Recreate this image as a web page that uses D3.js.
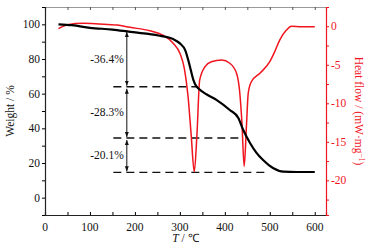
<!DOCTYPE html>
<html><head><meta charset="utf-8">
<script src="https://cdn.jsdelivr.net/npm/d3@7"></script>
<style>body{margin:0;background:#fff}svg{display:block}text{font-family:"Liberation Serif","Times New Roman",serif}</style>
</head><body>
<svg id="c" width="369" height="248"></svg>
<script>
const weightT = [30, 60, 100, 150, 190, 230, 260, 285, 300, 312, 322, 330, 336, 342, 360, 382, 411, 430, 441, 456, 470, 485, 507, 530, 560, 600];
const weightW = [100, 99.5, 98, 97, 95.7, 94.5, 93.2, 91.5, 89, 85, 76, 68, 64.5, 62.8, 59.5, 56.3, 50.6, 46, 39, 31.5, 26, 21.7, 17.1, 15, 14.8, 14.8];
const heatT = [30, 50, 85, 120, 160, 189, 233, 262, 285, 300, 310, 318, 325, 332, 338, 344, 356, 370, 393, 411, 426, 433, 438, 443, 448, 452, 459, 478, 500, 511, 522, 537, 548, 570, 600];
const heatH = [-0.3, 0.2, 0.38, 0.3, 0.16, -0.14, -0.58, -1.14, -2.2, -3.5, -5.5, -9, -14, -18.9, -14, -7.0, -5.25, -4.6, -4.38, -4.8, -6.1, -8.5, -12.5, -18.2, -13, -8.7, -7.2, -6.1, -4.6, -3.3, -1.8, -0.5, 0, -0.05, -0.05];
const stepLevels = [64.0, 34.4, 14.6];
const stepEnds = [340, 430, 493];
const stepLabels = ["-36.4%", "-28.3%", "-20.1%"];
const arrowTop = 95.6;
const xTicks = [0, 100, 200, 300, 400, 500, 600];
const yTicks = [0, 20, 40, 60, 80, 100];
const hTicks = [0, -5, -10, -15, -20];

const svg = d3.select("#c");
const L = 45, R = 326, T = 7, B = 215;
const x = d3.scaleLinear().domain([0, 625]).range([L, R]);
const y = d3.scaleLinear().domain([-10, 110]).range([B, T]);
const yr = d3.scaleLinear().domain([-24.5, 2.5]).range([B, T]);
const red = "#f0141e";

// top border with inward ticks
svg.append("g").attr("transform", `translate(0,${T})`)
  .call(d3.axisTop(x).tickValues(d3.range(0, 601, 50)).tickSize(-3).tickFormat(""))
  .call(g => g.select(".domain").attr("stroke", "#999").attr("stroke-width", 1.2))
  .call(g => g.selectAll(".tick line").attr("stroke", "#555"));

// bottom axis
const gx = svg.append("g").attr("transform", `translate(0,${B})`);
gx.call(d3.axisBottom(x).tickValues(d3.range(0, 601, 50)).tickSize(-3).tickFormat(""))
  .call(g => g.select(".domain").attr("stroke", "#222").attr("stroke-width", 1.2));
gx.selectAll(".lbl").data(xTicks).join("text").attr("class", "lbl")
  .attr("x", d => x(d)).attr("y", 16).attr("text-anchor", "middle")
  .attr("font-size", 11.5).attr("fill", "#111").text(d => d);

// left axis
const gy = svg.append("g").attr("transform", `translate(${L},0)`);
gy.call(d3.axisLeft(y).tickValues(d3.range(-10, 111, 10)).tickSize(3).tickFormat(""))
  .call(g => g.select(".domain").attr("stroke", "#222").attr("stroke-width", 1.2));
gy.selectAll(".lbl").data(yTicks).join("text").attr("class", "lbl")
  .attr("x", -5).attr("y", d => y(d)).attr("dy", "0.35em").attr("text-anchor", "end")
  .attr("font-size", 11.5).attr("fill", "#111").text(d => d);

// right axis
const gr = svg.append("g").attr("transform", `translate(${R},0)`);
gr.call(d3.axisRight(yr).tickValues(d3.range(-22.5, 2.6, 2.5)).tickSize(3).tickFormat(""))
  .call(g => g.select(".domain").attr("stroke", red).attr("stroke-width", 1.2))
  .call(g => g.selectAll(".tick line").attr("stroke", red));
gr.selectAll(".lbl").data(hTicks).join("text").attr("class", "lbl")
  .attr("x", 5).attr("y", d => yr(d)).attr("dy", "0.35em").attr("text-anchor", "start")
  .attr("font-size", 11.5).attr("fill", red).text(d => d);

// axis titles
svg.append("text").attr("transform", `translate(14,${(T + B) / 2}) rotate(-90)`)
  .attr("text-anchor", "middle").attr("font-size", 11.5).attr("fill", "#111").text("Weight / %");
const xt = svg.append("text").attr("x", (L + R) / 2).attr("y", 242).attr("text-anchor", "middle")
  .attr("font-size", 11.5).attr("fill", "#111");
xt.append("tspan").attr("font-style", "italic").text("T");
xt.append("tspan").text(" / ℃");
const ht = svg.append("text").attr("transform", `translate(355,${(T + B) / 2}) rotate(90)`)
  .attr("text-anchor", "middle").attr("font-size", 11.5).attr("fill", red);
ht.append("tspan").text("Heat flow / (mW·mg");
ht.append("tspan").attr("font-size", 7.5).attr("dy", -4).text("−1");
ht.append("tspan").attr("dy", 4).text(")");

// dashed step lines
stepLevels.forEach((lv, i) => {
  svg.append("line").attr("x1", x(152)).attr("x2", x(stepEnds[i]))
    .attr("y1", y(lv)).attr("y2", y(lv)).attr("stroke", "#111")
    .attr("stroke-width", 1.4).attr("stroke-dasharray", "8,5");
});

// arrows
const defs = svg.append("defs");
defs.append("marker").attr("id", "ah").attr("viewBox", "0 0 10 10").attr("refX", 10).attr("refY", 5)
  .attr("markerWidth", 5).attr("markerHeight", 5).attr("orient", "auto-start-reverse")
  .append("path").attr("d", "M0,1L10,5L0,9Z").attr("fill", "#111");
const ax = x(182);
const tops = [arrowTop].concat(stepLevels.slice(0, 2));
tops.forEach((tp, i) => {
  svg.append("line").attr("x1", ax).attr("x2", ax)
    .attr("y1", y(tp) + (i ? 2 : 0)).attr("y2", y(stepLevels[i]) - 1)
    .attr("stroke", "#111").attr("stroke-width", 1)
    .attr("marker-start", "url(#ah)").attr("marker-end", "url(#ah)");
  svg.append("text").attr("x", ax - 3).attr("y", (y(tp) + y(stepLevels[i])) / 2).attr("dy", "0.35em")
    .attr("text-anchor", "end").attr("font-size", 11.5).attr("fill", "#111").text(stepLabels[i]);
});

// curves
const wData = weightT.map((t, i) => [t, weightW[i]]);
const hData = heatT.map((t, i) => [t, heatH[i]]);
svg.append("path").datum(hData).attr("fill", "none").attr("stroke", red).attr("stroke-width", 1.5)
  .attr("d", d3.line().x(d => x(d[0])).y(d => yr(d[1])).curve(d3.curveMonotoneX));
svg.append("path").datum(wData).attr("fill", "none").attr("stroke", "#000").attr("stroke-width", 2.2)
  .attr("d", d3.line().x(d => x(d[0])).y(d => y(d[1])).curve(d3.curveMonotoneX));
</script>
</body></html>
